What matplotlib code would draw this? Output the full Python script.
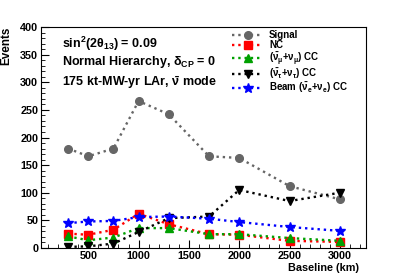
import matplotlib
matplotlib.use('Agg')
import matplotlib.pyplot as plt
from matplotlib.ticker import MultipleLocator

plt.rcParams['font.family'] = 'Liberation Sans'
plt.rcParams['font.weight'] = 'bold'
plt.rcParams['mathtext.fontset'] = 'custom'
plt.rcParams['mathtext.rm'] = 'Liberation Sans:bold'
plt.rcParams['mathtext.it'] = 'Liberation Sans:bold'
plt.rcParams['mathtext.bf'] = 'Liberation Sans:bold'

# Baselines (km) et nombre d'evenements
baselines = [300, 500, 750, 1000, 1300, 1700, 2000, 2500, 3000]
signal = [180, 166, 180, 266, 242, 166, 163, 112, 88]
nc = [26, 24, 33, 62, 43, 25, 24, 13, 11]
numu_cc = [21, 14, 19, 36, 36, 25, 25, 18, 13]
nutau_cc = [2, 3, 8, 29, 54, 57, 105, 85, 100]
beam_nue_cc = [45, 48, 49, 56, 57, 53, 47, 38, 31]

labels = ['Signal', 'NC',
          r'$(\bar{\nu}_{\mu}$+$\nu_{\mu})$ CC',
          r'$(\bar{\nu}_{\tau}$+$\nu_{\tau})$ CC',
          r'Beam $(\bar{\nu}_{e}$+$\nu_{e})$ CC']

fig = plt.figure(figsize=(4.07, 2.76), dpi=100)
ax = fig.add_axes([41 / 407, 1 - 248 / 276, (366 - 41) / 407, (248 - 27) / 276])

series = [signal, nc, numu_cc, nutau_cc, beam_nue_cc]
colors = ['#666666', 'red', '#00a000', 'black', 'blue']
markers = ['o', 's', '^', 'v', '*']
sizes = [5.5, 5.5, 5.5, 5.5, 7.5]
for y, c, m, s, lab in zip(series, colors, markers, sizes, labels):
    ax.plot(baselines, y, linestyle=':', linewidth=1.7, color=c, marker=m,
            markersize=s, label=lab)

ax.set_xlim(30, 3260)
ax.set_ylim(0, 400)
ax.xaxis.set_major_locator(MultipleLocator(500))
ax.xaxis.set_minor_locator(MultipleLocator(100))
ax.yaxis.set_major_locator(MultipleLocator(50))
ax.yaxis.set_minor_locator(MultipleLocator(10))
ax.tick_params(which='both', direction='in', top=False, right=False, labelsize=7.8, pad=2)
ax.tick_params(which='major', length=6)
ax.tick_params(which='minor', length=3)
ax.set_xticks([500, 1000, 1500, 2000, 2500, 3000])
ax.set_xticklabels(['500', '1000', '1500', '2000', '2500', '3000'])
ax.set_yticks([0, 50, 100, 150, 200, 250, 300, 350, 400])
ax.set_yticklabels(['0', '50', '100', '150', '200', '250', '300', '350', '400'])

ax.set_xlabel('Baseline (km)', fontsize=7.8, fontweight='bold', loc='right')
ax.xaxis.set_label_coords(0.978, -0.068)
ax.set_ylabel('Events', fontsize=8.5, fontweight='bold', loc='top')
ax.yaxis.set_label_coords(-0.087, 1.0)

ax.text(0.065, 0.925, r'sin$^{2}$(2$\theta_{13}$) = 0.09', transform=ax.transAxes,
        fontsize=9, fontweight='bold', va='center')
ax.text(0.065, 0.84, r'Normal Hierarchy, $\delta_{CP}$ = 0', transform=ax.transAxes,
        fontsize=9, fontweight='bold', va='center')
ax.text(0.065, 0.75, r'175 kt-MW-yr LAr, $\bar{\nu}$ mode', transform=ax.transAxes,
        fontsize=9, fontweight='bold', va='center')

leg = ax.legend(loc='upper left', bbox_to_anchor=(0.57, 1.012), frameon=False,
                fontsize=7, handlelength=3.2, handletextpad=0.6, labelspacing=0.0,
                borderaxespad=0.2)

fig.savefig('out.png', dpi=100)
